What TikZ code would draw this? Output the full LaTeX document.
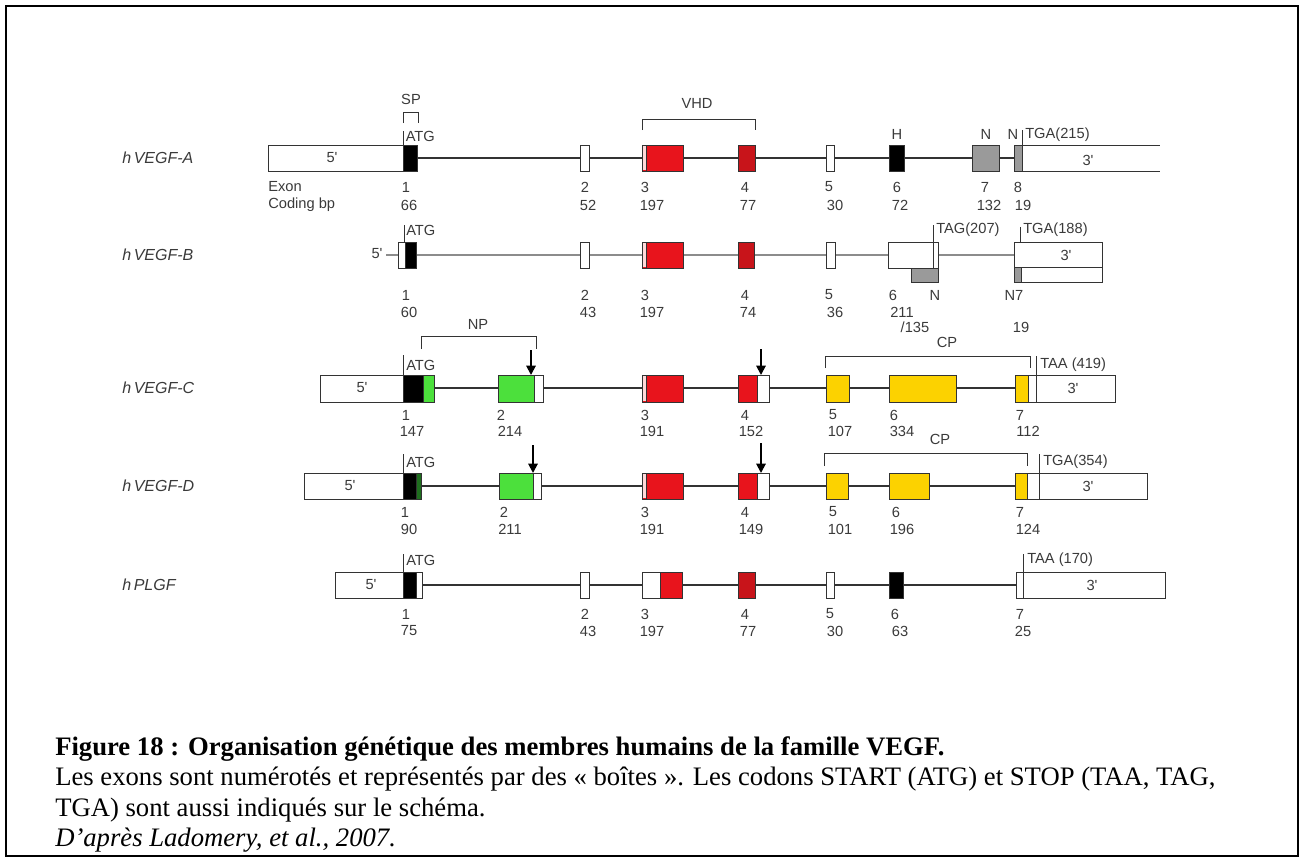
\documentclass[tikz,border=0pt]{standalone}
\usepackage{fontspec}
\setmainfont{Liberation Serif}
\newfontfamily\arialf{Liberation Sans}
\usetikzlibrary{arrows.meta}

\definecolor{ink}{HTML}{333333}
\definecolor{lblink}{HTML}{3A3A3A}
\definecolor{exred}{HTML}{E8141C}
\definecolor{exdred}{HTML}{C8141A}
\definecolor{exgreen}{HTML}{4CE03C}
\definecolor{exdgreen}{HTML}{1E6E1E}
\definecolor{exyellow}{HTML}{FCD200}
\definecolor{exgray}{HTML}{9A9A9A}

\tikzset{
  exonbox/.style={draw=ink, line width=0.7pt},
  intron/.style={draw=ink, line width=0.8pt},
  introngray/.style={draw=black!45, line width=0.9pt},
  tickline/.style={draw=ink, line width=0.5pt},
  brk/.style={draw=ink, line width=0.7pt},
  lbl/.style={font=\arialf\fontsize{11}{12}\selectfont, text=lblink, inner sep=0pt},
  gname/.style={font=\arialf\itshape\fontsize{12}{13}\selectfont, text=lblink, inner sep=0pt, anchor=west},
  cutarrow/.style={draw=black, line width=1.4pt, -{Triangle[length=7pt,width=7pt]}},
  captxt/.style={font=\fontsize{20}{23}\selectfont, inner sep=0pt, anchor=base west}
}
\newcommand\Exon[5]{\filldraw[exonbox, fill=#5] (#1,#3) rectangle (#2,#4);}
\newcommand\ExThree[2]{%
  \filldraw[exonbox, fill=exred] (642,#1) rectangle (683,#2);
  \fill[white!85!red] (642.6,#1+0.6) rectangle (646,#2-0.6);
  \draw[ink, line width=0.4pt] (646,#1) -- (646,#2);}

\begin{document}
\begin{tikzpicture}[x=0.75pt,y=-0.75pt]
\useasboundingbox (0,0) rectangle (1304,861);
\draw[line width=1.3pt] (6,6) rectangle (1298,856);

% ---------------- Row A : hVEGF-A ----------------
\node[gname] (gA) at (122,158) {h\,VEGF-A};
\draw[intron] (417,158) -- (1014,158);
\Exon{268}{403.6}{145}{171}{white}
\node[lbl] (a5) at (332,158) {5'};
\Exon{403.6}{417}{145}{171}{black}
\draw[tickline] (403.6,131) -- (403.6,145);
\node[lbl, anchor=west] (aATG) at (405.5,136) {ATG};
\draw[brk] (403.6,123) -- (403.6,112) -- (418,112) -- (418,123);
\node[lbl] (aSP) at (411,99) {SP};
\Exon{580}{589}{145}{171}{white}
\ExThree{145}{171}
\Exon{738}{755}{145}{171}{exdred}
\Exon{826}{834}{145}{171}{white}
\Exon{889}{904}{145}{171}{black}
\Exon{972}{999}{145}{171}{exgray}
\Exon{1014}{1022}{145}{171}{exgray}
\draw[exonbox] (1022,145) -- (1160,145);
\draw[exonbox] (1022,171) -- (1160,171);
\node[lbl] (a3) at (1088,160) {3'};
\draw[tickline] (1022,130) -- (1022,145);
\node[lbl, anchor=west] (aTGA) at (1025,135) {TGA(215)};
\node[lbl] (aH) at (897,134) {H};
\node[lbl] (aN7) at (986,134) {N};
\node[lbl] (aN8) at (1013,134) {N};
\draw[brk] (642,130) -- (642,119) -- (755,119) -- (755,130);
\node[lbl] (aVHD) at (697,103) {VHD};
\node[lbl, anchor=west] (aExon) at (268,187) {Exon};
\node[lbl, anchor=west] (aCod) at (268,205) {Coding bp};
\foreach \x/\t in {406/1, 585/2, 645/3, 745/4, 829/5, 897/6, 985/7, 1018/8}
  \node[lbl] at (\x,187) {\t};
\foreach \x/\t in {409/66, 588/52, 652/197, 748/77, 835/30, 900/72, 989/132, 1023/19}
  \node[lbl] at (\x,205) {\t};

% ---------------- Row B : hVEGF-B ----------------
\node[gname] (gB) at (122,255) {h\,VEGF-B};
\node[lbl] (b5) at (377,254) {5'};
\draw[introngray] (386,255) -- (398,255);
\draw[introngray] (416,255) -- (888,255);
\draw[introngray] (938,255) -- (1014,255);
\Exon{398}{416}{242}{268}{white}
\Exon{405}{416}{242}{268}{black}
\draw[tickline] (404,225) -- (404,242);
\node[lbl, anchor=west] (bATG) at (406,230) {ATG};
\Exon{580}{589}{242}{268}{white}
\ExThree{242}{268}
\Exon{738}{754}{242}{268}{exdred}
\Exon{826}{835}{242}{268}{white}
\Exon{888}{938}{242}{268}{white}
\Exon{911}{938}{268}{282}{exgray}
\draw[tickline] (933,225) -- (933,268);
\node[lbl, anchor=west] (bTAG) at (936,230) {TAG(207)};
\Exon{1014}{1102}{242}{282}{white}
\draw[exonbox] (1014,267) -- (1102,267);
\Exon{1014}{1021}{267}{282}{exgray}
\draw[tickline] (1020,227) -- (1020,242);
\node[lbl, anchor=west] (bTGA) at (1023,230) {TGA(188)};
\node[lbl] (b3) at (1066,255) {3'};
\foreach \x/\t in {406/1, 585/2, 645/3, 745/4, 829/5, 893/6}
  \node[lbl] at (\x,295) {\t};
\node[lbl] (bN) at (935,295) {N};
\node[lbl] (bN7) at (1014,295) {N7};
\foreach \x/\t in {409/60, 588/43, 652/197, 748/74, 835/36, 902/211}
  \node[lbl] at (\x,312) {\t};
\node[lbl] (b135) at (915,327) {/135};
\node[lbl] (b19) at (1021,327) {19};

% ---------------- Row C : hVEGF-C ----------------
\node[gname] (gC) at (122,388) {h\,VEGF-C};
\draw[intron] (434,388) -- (1015,388);
\Exon{320}{403.6}{375}{402}{white}
\node[lbl] (c5) at (362,388) {5'};
\Exon{403.6}{434}{375}{402}{exgreen}
\Exon{403.6}{423}{375}{402}{black}
\draw[tickline] (403.6,355) -- (403.6,375);
\node[lbl, anchor=west] (cATG) at (406,365) {ATG};
\draw[brk] (421,349) -- (421,336) -- (536,336) -- (536,349);
\node[lbl] (cNP) at (478,324) {NP};
\Exon{498}{543}{375}{402}{white}
\Exon{498}{534}{375}{402}{exgreen}
\coordinate (cA1s) at (531,350);
\coordinate (cA1e) at (531,375);
\draw[cutarrow] (cA1s) -- (cA1e);
\ExThree{375}{402}
\Exon{738}{769}{375}{402}{white}
\Exon{738}{757}{375}{402}{exred}
\coordinate (cA2s) at (761,349);
\coordinate (cA2e) at (761,375);
\draw[cutarrow] (cA2s) -- (cA2e);
\Exon{826}{849}{375}{402}{exyellow}
\Exon{889}{956}{375}{402}{exyellow}
\Exon{1015}{1036}{375}{402}{white}
\Exon{1015}{1028}{375}{402}{exyellow}
\Exon{1036}{1115}{375}{402}{white}
\node[lbl] (c3) at (1073,388) {3'};
\draw[tickline] (1036,356) -- (1036,375);
\node[lbl, anchor=west] (cTAA) at (1040,365) {TAA (419)};
\draw[brk] (825,368) -- (825,356) -- (1030,356) -- (1030,368);
\node[lbl] (cCP) at (947,342) {CP};
\foreach \x/\t in {406/1, 501/2, 645/3, 745/4, 833/5, 894/6, 1020/7}
  \node[lbl] at (\x,415) {\t};
\foreach \x/\t in {412/147, 510/214, 652/191, 751/152, 840/107, 902/334, 1028/112}
  \node[lbl] at (\x,431) {\t};

% ---------------- Row D : hVEGF-D ----------------
\node[gname] (gD) at (122,486) {h\,VEGF-D};
\draw[intron] (421,486) -- (1015,486);
\Exon{304}{403.6}{473}{499}{white}
\node[lbl] (d5) at (350,486) {5'};
\Exon{403.6}{421}{473}{499}{exdgreen}
\Exon{403.6}{416}{473}{499}{black}
\draw[tickline] (403.6,454) -- (403.6,473);
\node[lbl, anchor=west] (dATG) at (406,462) {ATG};
\Exon{499}{541}{473}{499}{white}
\Exon{499}{533}{473}{499}{exgreen}
\coordinate (dA1s) at (533,445);
\coordinate (dA1e) at (533,473);
\draw[cutarrow] (dA1s) -- (dA1e);
\ExThree{473}{499}
\Exon{738}{769}{473}{499}{white}
\Exon{738}{757}{473}{499}{exred}
\coordinate (dA2s) at (761,443);
\coordinate (dA2e) at (761,473);
\draw[cutarrow] (dA2s) -- (dA2e);
\Exon{826}{848}{473}{499}{exyellow}
\Exon{889}{929}{473}{499}{exyellow}
\Exon{1015}{1039}{473}{499}{white}
\Exon{1015}{1027.5}{473}{499}{exyellow}
\Exon{1039}{1147}{473}{499}{white}
\node[lbl] (d3) at (1088,486) {3'};
\draw[tickline] (1039,454) -- (1039,473);
\node[lbl, anchor=west] (dTGA) at (1043,462) {TGA(354)};
\draw[brk] (824,466) -- (824,453) -- (1027,453) -- (1027,466);
\node[lbl] (dCP) at (940,439) {CP};
\foreach \x/\t in {405/1, 504/2, 645/3, 745/4, 833/5, 896/6, 1020/7}
  \node[lbl] at (\x,512) {\t};
\foreach \x/\t in {409/90, 510/211, 652/191, 751/149, 840/101, 902/196, 1028/124}
  \node[lbl] at (\x,529) {\t};

% ---------------- Row E : hPLGF ----------------
\node[gname] (gE) at (122,585) {h\,PLGF};
\draw[intron] (422.5,585) -- (1016,585);
\Exon{335}{403.6}{572}{598}{white}
\node[lbl] (e5) at (371,585) {5'};
\Exon{403.6}{422.5}{572}{598}{white}
\Exon{403.6}{416}{572}{598}{black}
\draw[tickline] (403.6,554) -- (403.6,572);
\node[lbl, anchor=west] (eATG) at (406,560) {ATG};
\Exon{580}{589}{572}{598}{white}
\Exon{642}{682}{572}{598}{white}
\Exon{660}{682}{572}{598}{exred}
\Exon{738}{755}{572}{598}{exdred}
\Exon{826}{834}{572}{598}{white}
\Exon{889}{903}{572}{598}{black}
\Exon{1016}{1023}{572}{598}{white}
\Exon{1023}{1165}{572}{598}{white}
\node[lbl] (e3) at (1092,585) {3'};
\draw[tickline] (1023,554) -- (1023,572);
\node[lbl, anchor=west] (eTAA) at (1027,560) {TAA (170)};
\foreach \x/\t in {406/1, 585/2, 645/3, 745/4, 830/5, 895/6, 1020/7}
  \node[lbl] at (\x,614) {\t};
\foreach \x/\t in {409/75, 588/43, 652/197, 748/77, 835/30, 900/63, 1023/25}
  \node[lbl] at (\x,631) {\t};

% ---------------- Caption ----------------
\node[captxt] (cap1) at (55,755) {\bfseries Figure 18 : Organisation génétique des membres humains de la famille VEGF.};
\node[captxt] (cap2) at (55,785) {Les exons sont numérotés et représentés par des « boîtes ». Les codons START (ATG) et STOP (TAA, TAG,};
\node[captxt] (cap3) at (55,816) {TGA) sont aussi indiqués sur le schéma.};
\node[captxt] (cap4) at (55,846) {\itshape D'après Ladomery, et al., 2007.};
\end{tikzpicture}
\end{document}
